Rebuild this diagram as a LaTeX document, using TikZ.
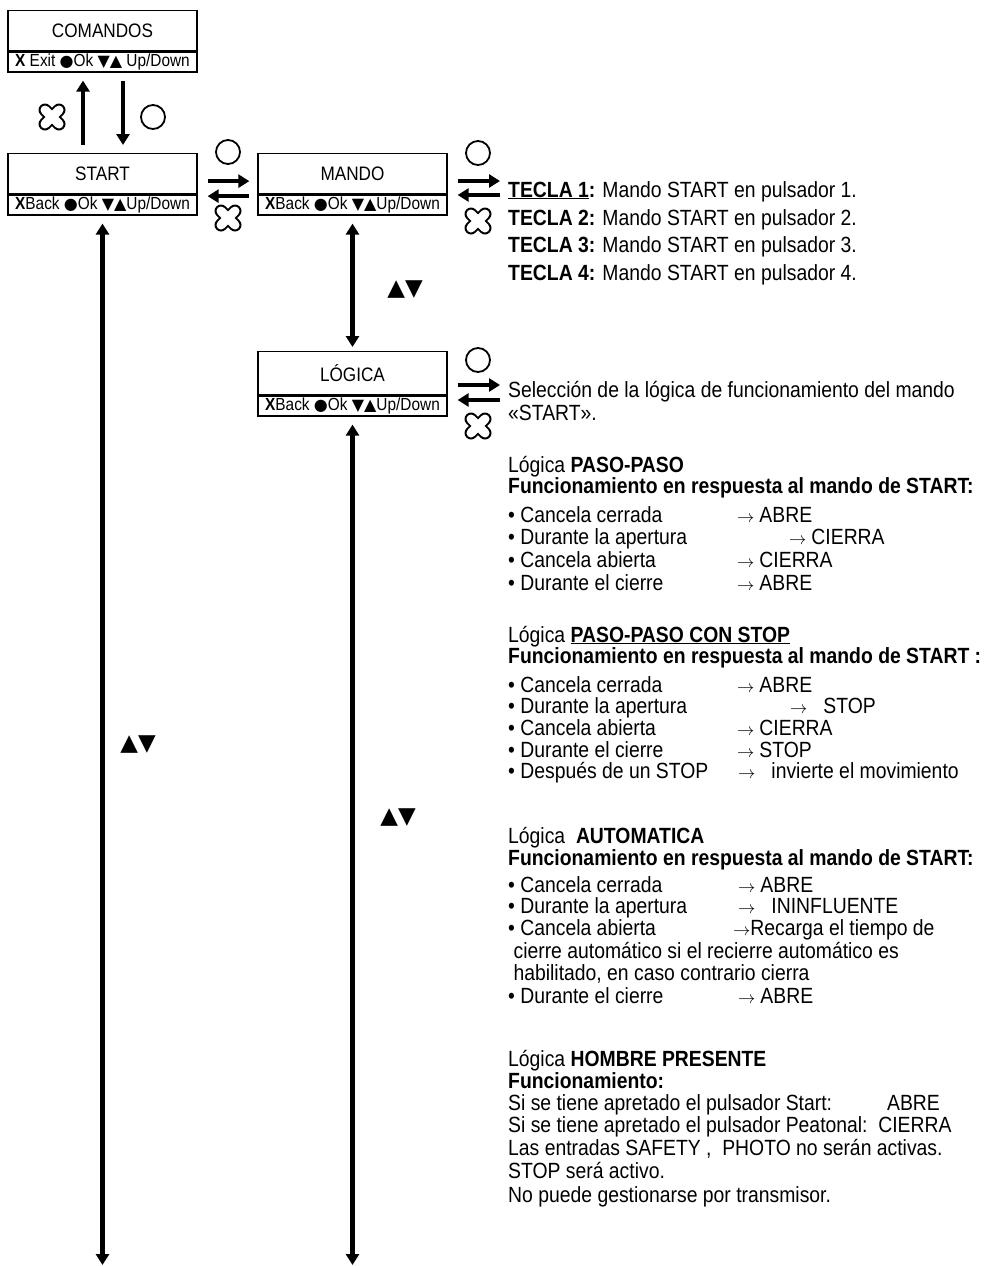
\documentclass[tikz,border=0pt]{standalone}
\usepackage{fontspec}
\setmainfont{Liberation Sans}[FakeStretch=0.88]
\newfontfamily\symfont{DejaVu Sans}
\usetikzlibrary{arrows.meta,positioning}

\newcommand\sym[1]{{\symfont\fontsize{16}{16}\selectfont #1}}
\newcommand\arr{{\fontsize{18}{18}\selectfont$\rightarrow$}}
\newcommand\gateline[4]{\makebox[#1pt][l]{#2}\arr\hspace{#3pt}#4}

\tikzset{
  obtn/.pic={\draw[line width=1.8pt] (0,0) circle (12);},
  xbtn/.pic={
    \draw[line width=13pt,line cap=round] (-7,-7) -- (7,7) (-7,7) -- (7,-7);
    \draw[white,line width=9pt,line cap=round] (-7,-7) -- (7,7) (-7,7) -- (7,-7);
  }
}

\begin{document}
\begin{tikzpicture}[x=1pt,y=-1pt,
  panel/.style={draw,line width=1.3pt,minimum width=189pt,inner sep=0pt},
  headbox/.style={panel,minimum height=40pt,font=\fontsize{19.5}{20}\selectfont},
  keybox/.style={panel,minimum height=20pt,font=\fontsize{17.5}{18}\selectfont},
  fat/.style={line width=4.5pt,-{Triangle[length=11pt,width=13pt]}},
  fatboth/.style={line width=4.5pt,{Triangle[length=11pt,width=13pt]}-{Triangle[length=11pt,width=13pt]}},
  txt/.style={anchor=base west,inner sep=0pt,font=\fontsize{22}{24}\selectfont},
  updown/.style={inner sep=0pt,font=\symfont\fontsize{23}{23}\selectfont}]
  \useasboundingbox (0,0) rectangle (991,1266);

  % menu panels
  \node[headbox,anchor=north] (comandos) at (102.5,10) {COMANDOS};
  \node[keybox,below=0pt of comandos] (comandos-k) {\textbf{X} Exit \sym{●}Ok \sym{▼▲} Up/Down};
  \node[headbox,anchor=north] (start) at (102.5,153) {START};
  \node[keybox,below=0pt of start] (start-k) {\textbf{X}Back \sym{●}Ok \sym{▼▲}Up/Down};
  \node[headbox,anchor=north] (mando) at (352.5,153) {MANDO};
  \node[keybox,below=0pt of mando] (mando-k) {\textbf{X}Back \sym{●}Ok \sym{▼▲}Up/Down};
  \node[headbox,anchor=north,minimum height=43pt] (logica) at (352.5,351) {LÓGICA};
  \node[keybox,below=0pt of logica] (logica-k) {\textbf{X}Back \sym{●}Ok \sym{▼▲}Up/Down};

  % comandos / start
  \draw[fat,shorten <=8pt,shorten >=8pt] ([xshift=-19.5pt]start.north) -- ([xshift=-19.5pt]comandos-k.south);
  \draw[fat,shorten <=8pt,shorten >=8pt] ([xshift=20.5pt]comandos-k.south) -- ([xshift=20.5pt]start.north);
  \pic at (52,117) {xbtn};
  \pic at (153,117) {obtn};

  % start / mando
  \draw[fat,shorten <=10pt,shorten >=8pt] ([yshift=-7.5pt]start.east) -- ([yshift=-7.5pt]mando.west);
  \draw[fat,shorten <=8pt,shorten >=10pt] ([yshift=-22.5pt]mando.west) -- ([yshift=-22.5pt]start.east);
  \pic at (228,152) {obtn};
  \pic at (228,218) {xbtn};

  % mando -> teclas
  \coordinate (mando-r) at (500,181);
  \coordinate (mando-l) at (500,195);
  \draw[fat,shorten <=10pt] (mando.east |- mando-r) -- (mando-r);
  \draw[fat,shorten >=10pt] (mando-l) -- (mando.east |- mando-l);
  \pic at (478,153) {obtn};
  \pic at (478,221) {xbtn};

  % logica -> text
  \coordinate (logica-r) at (500,385);
  \coordinate (logica-l) at (500,400);
  \draw[fat,shorten <=10pt] (logica.east |- logica-r) -- (logica-r);
  \draw[fat,shorten >=10pt] (logica-l) -- (logica.east |- logica-l);
  \pic at (478,360) {obtn};
  \pic at (478,426) {xbtn};

  % up/down runs
  \coordinate (start-end) at (102.5,1265);
  \coordinate (logica-end) at (352.5,1265);
  \draw[fatboth,shorten <=8pt,shorten >=4pt] (mando-k.south) -- (logica.north);
  \draw[fatboth,shorten <=8pt] (start-k.south) -- (start-end);
  \draw[fatboth,shorten <=8pt] (logica-k.south) -- (logica-end);
  \node[updown] (ud-mando) at (405,290) {▲▼};
  \node[updown] (ud-start) at (138,745) {▲▼};
  \node[updown] (ud-logica) at (398,818) {▲▼};

  % teclas
  \node[txt] (tecla1) at (508,197) {\textbf{\underline{TECLA 1}:} Mando START en pulsador 1.};
  \foreach \n/\y in {2/225,3/252,4/280}
    \node[txt] (tecla\n) at (508,\y) {\textbf{TECLA \n:} Mando START en pulsador \n.};
  \node[txt] (sel1) at (508,397) {Selección de la lógica de funcionamiento del mando};
  \node[txt] (sel2) at (508,420) {«START».};

  % paso-paso
  \foreach \y/\t [count=\i] in {
      472/{Lógica \textbf{PASO-PASO}},
      493/{\textbf{Funcionamiento en respuesta al mando de START:}},
      522/{\gateline{229}{• Cancela cerrada}{5}{ABRE}},
      544/{\gateline{281}{• Durante la apertura}{5}{CIERRA}},
      567/{\gateline{229}{• Cancela abierta}{5}{CIERRA}},
      590/{\gateline{229}{• Durante el cierre}{5}{ABRE}}}
    \node[txt] (pp\i) at (508,\y) {\t};

  % paso-paso con stop
  \foreach \y/\t [count=\i] in {
      642/{Lógica \textbf{\underline{PASO-PASO CON STOP}}},
      663/{\textbf{Funcionamiento en respuesta al mando de START :}},
      692/{\gateline{229}{• Cancela cerrada}{5}{ABRE}},
      713/{\gateline{282}{• Durante la apertura}{16}{STOP}},
      735/{\gateline{229}{• Cancela abierta}{5}{CIERRA}},
      757/{\gateline{229}{• Durante el cierre}{5}{STOP}},
      778/{\gateline{230}{• Después de un STOP}{16}{invierte el movimiento}}}
    \node[txt] (ps\i) at (508,\y) {\t};

  % automatica
  \foreach \y/\t [count=\i] in {
      843/{Lógica\ \ \textbf{AUTOMATICA}},
      865/{\textbf{Funcionamiento en respuesta al mando de START:}},
      892/{\gateline{230}{• Cancela cerrada}{5}{ABRE}},
      913/{\gateline{230}{• Durante la apertura}{16}{ININFLUENTE}},
      935/{\gateline{225}{• Cancela abierta}{0}{Recarga el tiempo de}},
      958/{\ cierre automático si el recierre automático es},
      980/{\ habilitado, en caso contrario cierra},
      1003/{\gateline{230}{• Durante el cierre}{5}{ABRE}}}
    \node[txt] (au\i) at (508,\y) {\t};

  % hombre presente
  \foreach \y/\t [count=\i] in {
      1066/{Lógica \textbf{HOMBRE PRESENTE}},
      1088/{\textbf{Funcionamiento:}},
      1110/{\makebox[379pt][l]{Si se tiene apretado el pulsador Start:}ABRE},
      1132/{Si se tiene apretado el pulsador Peatonal:\ \ CIERRA},
      1155/{Las entradas SAFETY ,\ \ PHOTO no serán activas.},
      1178/{STOP será activo.},
      1202/{No puede gestionarse por transmisor.}}
    \node[txt] (hp\i) at (508,\y) {\t};
\end{tikzpicture}
\end{document}
